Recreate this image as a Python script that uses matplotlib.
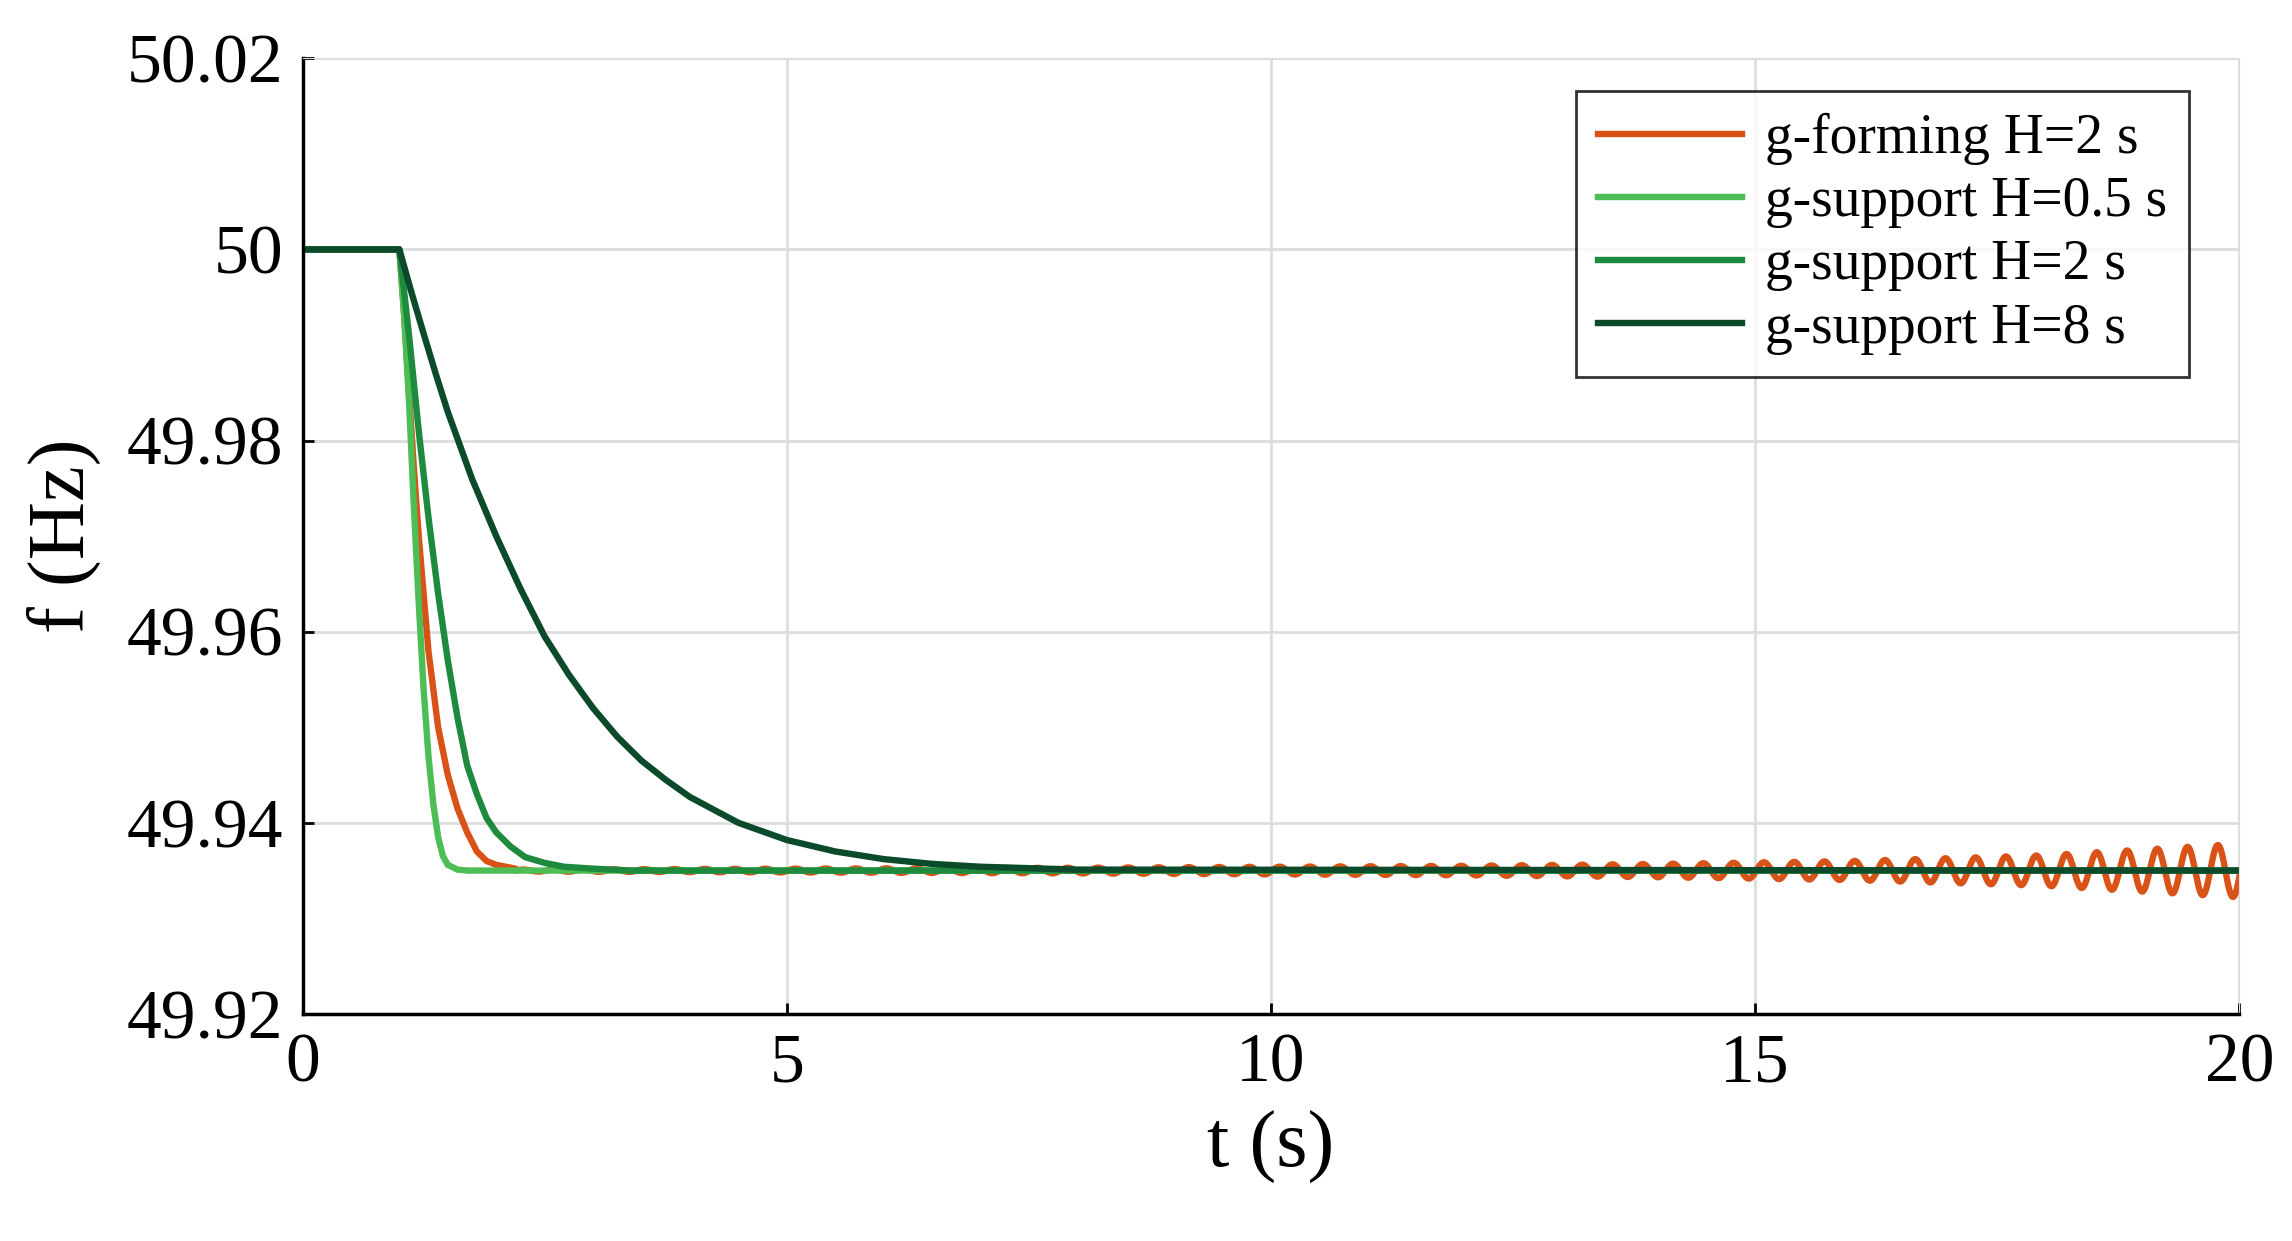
import numpy as np
import matplotlib
matplotlib.use("Agg")
import matplotlib.pyplot as plt

plt.rcParams['font.family'] = ['Liberation Serif', 'DejaVu Serif']

labels = ["g-forming H=2 s", "g-support H=0.5 s", "g-support H=2 s", "g-support H=8 s"]
colors = ["#D95319", "#4DBE55", "#1E8A3E", "#0B4A2A"]

t_s05 = [0, 1.0, 1.05, 1.1, 1.15, 1.2, 1.25, 1.3, 1.35, 1.4, 1.45, 1.5, 1.6, 1.7, 20]
f_s05 = [50, 50, 49.993, 49.984, 49.973, 49.963, 49.954, 49.947, 49.942, 49.9385, 49.9365, 49.9356, 49.9351, 49.935, 49.935]

t_s2 = [0, 1.0, 1.1, 1.2, 1.3, 1.4, 1.5, 1.6, 1.7, 1.8, 1.9, 2.0, 2.15, 2.3, 2.5, 2.7, 3.0, 3.4, 20]
f_s2 = [50, 50, 49.991, 49.981, 49.972, 49.964, 49.957, 49.951, 49.946, 49.943, 49.9405, 49.9390, 49.9375, 49.9364, 49.9358, 49.9354, 49.9352, 49.935, 49.935]

t_s8 = [0, 1.0, 1.125, 1.25, 1.375, 1.5, 1.625, 1.75, 1.875, 2.0, 2.25, 2.5, 2.75, 3.0, 3.25, 3.5, 3.75, 4.0, 4.5, 5.0, 5.5, 6.0, 6.5, 7.0, 8.0, 20]
f_s8 = [50, 50, 49.9955, 49.9912, 49.987, 49.983, 49.9795, 49.976, 49.973, 49.970, 49.9645, 49.9595, 49.9555, 49.952, 49.949, 49.9465, 49.9445, 49.9427, 49.9400, 49.9382, 49.9370, 49.9362, 49.9357, 49.9354, 49.9351, 49.935]

t_gf = [0, 1.0, 1.05, 1.1, 1.15, 1.2, 1.3, 1.4, 1.5, 1.6, 1.7, 1.8, 1.9, 2.0, 2.2]
f_gf = [50, 50, 49.993, 49.985, 49.977, 49.970, 49.958, 49.950, 49.945, 49.9415, 49.939, 49.937, 49.936, 49.9356, 49.9352]
# oscillation envelope of the g-forming curve (amplitude in Hz at given times)
env_t = [2.2, 5, 8, 10, 12, 14, 16, 18, 20]
env_a = [0.0001, 0.0002, 0.0003, 0.0004, 0.0005, 0.0007, 0.001, 0.0016, 0.0028]
osc_freq = 3.2
f_center = 49.935

tt = np.linspace(2.2, 20, 6000)
amp = np.interp(tt, env_t, env_a)
osc = f_center + amp * np.sin(2 * np.pi * osc_freq * (tt - 2.2))
tg = np.concatenate([t_gf, tt[1:]])
fg = np.concatenate([f_gf, osc[1:]])

fig = plt.figure(figsize=(22.92, 12.41), dpi=100)
ax = fig.add_axes([0.132, 0.183, 0.845, 0.77])
lw = 4.6
ax.plot(tg, fg, color=colors[0], lw=lw, label=labels[0])
ax.plot(t_s05, f_s05, color=colors[1], lw=lw, label=labels[1])
ax.plot(t_s2, f_s2, color=colors[2], lw=lw, label=labels[2])
ax.plot(t_s8, f_s8, color=colors[3], lw=lw, label=labels[3])

ax.set_xlim(0, 20)
ax.set_ylim(49.92, 50.02)
ax.set_xticks([0, 5, 10, 15, 20])
ax.set_yticks([49.92, 49.94, 49.96, 49.98, 50.0, 50.02])
ax.set_yticklabels(["49.92", "49.94", "49.96", "49.98", "50", "50.02"])
ax.grid(True, color="#DDDDDD", lw=2)
ax.set_axisbelow(True)
for s in ["top", "right"]:
    ax.spines[s].set_color("#DDDDDD")
for s in ["left", "bottom"]:
    ax.spines[s].set_linewidth(2.5)
ax.tick_params(labelsize=50, length=8, width=2, direction="in", pad=14)
ax.set_xlabel("t (s)", fontsize=58, labelpad=10)
ax.set_ylabel("f (Hz)", fontsize=58, labelpad=18)
leg = ax.legend(loc="upper right", fontsize=40, fancybox=False, edgecolor="black",
                handlelength=2.6, handletextpad=0.4, borderaxespad=0.0,
                bbox_to_anchor=(0.974, 0.966), labelspacing=0.2)
leg.get_frame().set_linewidth(2)
fig.savefig("out.png", dpi=100)
